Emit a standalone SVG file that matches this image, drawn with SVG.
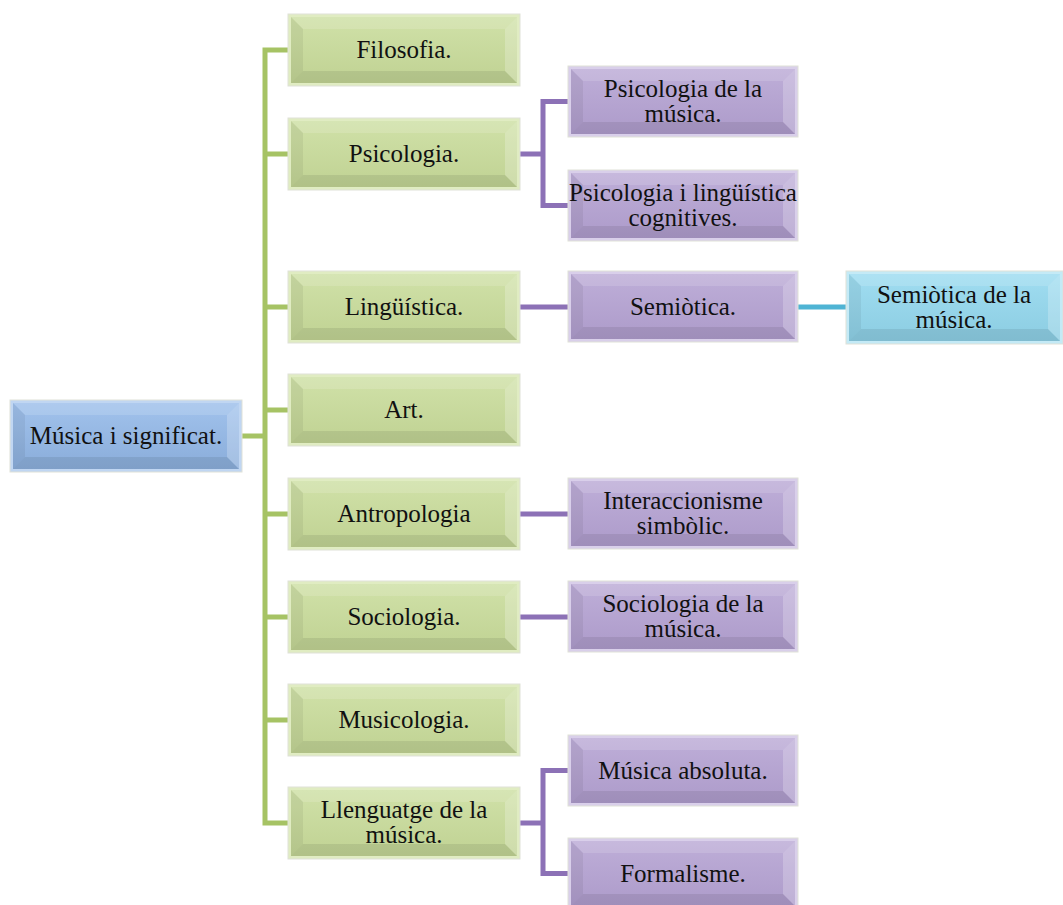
<svg xmlns="http://www.w3.org/2000/svg" width="1063" height="905" viewBox="0 0 1063 905">
  <defs>
    <linearGradient id="gGreen" x1="0" y1="0" x2="0" y2="1">
      <stop offset="0" stop-color="#d0e1a8"/>
      <stop offset="1" stop-color="#c0d293"/>
    </linearGradient>
    <linearGradient id="gPurple" x1="0" y1="0" x2="0" y2="1">
      <stop offset="0" stop-color="#beaed8"/>
      <stop offset="1" stop-color="#ad9bca"/>
    </linearGradient>
    <linearGradient id="gBlue" x1="0" y1="0" x2="0" y2="1">
      <stop offset="0" stop-color="#a1c2ec"/>
      <stop offset="1" stop-color="#8aadda"/>
    </linearGradient>
    <linearGradient id="gCyan" x1="0" y1="0" x2="0" y2="1">
      <stop offset="0" stop-color="#a0ddf1"/>
      <stop offset="1" stop-color="#8ccde2"/>
    </linearGradient>
  </defs>
  <style>
    .edge { fill: none; stroke-width: 5; stroke-linecap: square; stroke-linejoin: miter; }
    .eg { stroke: #a6c364; }
    .ep { stroke: #8c71b6; }
    .ec { stroke: #4fb4d4; }
    .frame { stroke: #dfe1d8; stroke-width: 1; }
    .green .frame { fill: #e0ecc2; }
    .green .face { fill: url(#gGreen); }
    .purple .frame { fill: #d9cfea; }
    .purple .face { fill: url(#gPurple); }
    .blue .frame { fill: #c0d6f2; }
    .blue .face { fill: url(#gBlue); }
    .cyan .frame { fill: #c4eaf6; }
    .cyan .face { fill: url(#gCyan); }
    .bt { fill: #ffffff; opacity: 0.14; }
    .bl { fill: #000000; opacity: 0.06; }
    .bb { fill: #000000; opacity: 0.08; }
    .br { fill: #ffffff; opacity: 0.22; }
    text { font-family: "Liberation Serif", "Times New Roman", serif; font-size: 25px; fill: #111111; text-anchor: middle; }
  </style>

  <!-- connectors -->
  <g id="connectors">
    <path class="edge eg" d="M242,436 H265 M265,50 V823 M265,50 H288 M265,154 H288 M265,307 H288 M265,410 H288 M265,514 H288 M265,617 H288 M265,720 H288 M265,823 H288"/>
    <path class="edge ep" d="M520,154 H543 M543,101.5 V205.5 M543,101.5 H568 M543,205.5 H568"/>
    <path class="edge ep" d="M520,307 H568"/>
    <path class="edge ep" d="M520,514 H568"/>
    <path class="edge ep" d="M520,617 H568"/>
    <path class="edge ep" d="M520,823 H543 M543,770.5 V873.5 M543,770.5 H568 M543,873.5 H568"/>
    <path class="edge ec" d="M798,307 H846"/>
  </g>

  <!-- root -->
  <g id="n-root" class="blue" transform="translate(10,400)">
    <rect class="frame" x="0" y="0" width="232" height="72"/>
    <rect class="face" x="3" y="3" width="226" height="66"/>
    <polygon class="bt" points="3,3 229,3 217,15 15,15"/>
    <polygon class="bl" points="3,3 15,15 15,57 3,69"/>
    <polygon class="bb" points="3,69 15,57 217,57 229,69"/>
    <polygon class="br" points="229,3 229,69 217,57 217,15"/>
    <text x="116" y="44">Música i significat.</text>
  </g>

  <!-- first level -->
  <g id="n-filosofia" class="green" transform="translate(288,14)">
    <rect class="frame" x="0" y="0" width="232" height="72"/>
    <rect class="face" x="3" y="3" width="226" height="66"/>
    <polygon class="bt" points="3,3 229,3 217,15 15,15"/>
    <polygon class="bl" points="3,3 15,15 15,57 3,69"/>
    <polygon class="bb" points="3,69 15,57 217,57 229,69"/>
    <polygon class="br" points="229,3 229,69 217,57 217,15"/>
    <text x="116" y="44">Filosofia.</text>
  </g>
  <g id="n-psicologia" class="green" transform="translate(288,118)">
    <rect class="frame" x="0" y="0" width="232" height="72"/>
    <rect class="face" x="3" y="3" width="226" height="66"/>
    <polygon class="bt" points="3,3 229,3 217,15 15,15"/>
    <polygon class="bl" points="3,3 15,15 15,57 3,69"/>
    <polygon class="bb" points="3,69 15,57 217,57 229,69"/>
    <polygon class="br" points="229,3 229,69 217,57 217,15"/>
    <text x="116" y="44">Psicologia.</text>
  </g>
  <g id="n-linguistica" class="green" transform="translate(288,271)">
    <rect class="frame" x="0" y="0" width="232" height="72"/>
    <rect class="face" x="3" y="3" width="226" height="66"/>
    <polygon class="bt" points="3,3 229,3 217,15 15,15"/>
    <polygon class="bl" points="3,3 15,15 15,57 3,69"/>
    <polygon class="bb" points="3,69 15,57 217,57 229,69"/>
    <polygon class="br" points="229,3 229,69 217,57 217,15"/>
    <text x="116" y="44">Lingüística.</text>
  </g>
  <g id="n-art" class="green" transform="translate(288,374)">
    <rect class="frame" x="0" y="0" width="232" height="72"/>
    <rect class="face" x="3" y="3" width="226" height="66"/>
    <polygon class="bt" points="3,3 229,3 217,15 15,15"/>
    <polygon class="bl" points="3,3 15,15 15,57 3,69"/>
    <polygon class="bb" points="3,69 15,57 217,57 229,69"/>
    <polygon class="br" points="229,3 229,69 217,57 217,15"/>
    <text x="116" y="44">Art.</text>
  </g>
  <g id="n-antropologia" class="green" transform="translate(288,478)">
    <rect class="frame" x="0" y="0" width="232" height="72"/>
    <rect class="face" x="3" y="3" width="226" height="66"/>
    <polygon class="bt" points="3,3 229,3 217,15 15,15"/>
    <polygon class="bl" points="3,3 15,15 15,57 3,69"/>
    <polygon class="bb" points="3,69 15,57 217,57 229,69"/>
    <polygon class="br" points="229,3 229,69 217,57 217,15"/>
    <text x="116" y="44">Antropologia</text>
  </g>
  <g id="n-sociologia" class="green" transform="translate(288,581)">
    <rect class="frame" x="0" y="0" width="232" height="72"/>
    <rect class="face" x="3" y="3" width="226" height="66"/>
    <polygon class="bt" points="3,3 229,3 217,15 15,15"/>
    <polygon class="bl" points="3,3 15,15 15,57 3,69"/>
    <polygon class="bb" points="3,69 15,57 217,57 229,69"/>
    <polygon class="br" points="229,3 229,69 217,57 217,15"/>
    <text x="116" y="44">Sociologia.</text>
  </g>
  <g id="n-musicologia" class="green" transform="translate(288,684)">
    <rect class="frame" x="0" y="0" width="232" height="72"/>
    <rect class="face" x="3" y="3" width="226" height="66"/>
    <polygon class="bt" points="3,3 229,3 217,15 15,15"/>
    <polygon class="bl" points="3,3 15,15 15,57 3,69"/>
    <polygon class="bb" points="3,69 15,57 217,57 229,69"/>
    <polygon class="br" points="229,3 229,69 217,57 217,15"/>
    <text x="116" y="44">Musicologia.</text>
  </g>
  <g id="n-llenguatge" class="green" transform="translate(288,787)">
    <rect class="frame" x="0" y="0" width="232" height="72"/>
    <rect class="face" x="3" y="3" width="226" height="66"/>
    <polygon class="bt" points="3,3 229,3 217,15 15,15"/>
    <polygon class="bl" points="3,3 15,15 15,57 3,69"/>
    <polygon class="bb" points="3,69 15,57 217,57 229,69"/>
    <polygon class="br" points="229,3 229,69 217,57 217,15"/>
    <text x="116" y="31">Llenguatge de la</text>
    <text x="116" y="56">música.</text>
  </g>

  <!-- second level -->
  <g id="n-psico-musica" class="purple" transform="translate(568,66)">
    <rect class="frame" x="0" y="0" width="230" height="71"/>
    <rect class="face" x="3" y="3" width="224" height="65"/>
    <polygon class="bt" points="3,3 227,3 215,15 15,15"/>
    <polygon class="bl" points="3,3 15,15 15,56 3,68"/>
    <polygon class="bb" points="3,68 15,56 215,56 227,68"/>
    <polygon class="br" points="227,3 227,68 215,56 215,15"/>
    <text x="115" y="31">Psicologia de la</text>
    <text x="115" y="56">música.</text>
  </g>
  <g id="n-psico-cognitives" class="purple" transform="translate(568,170)">
    <rect class="frame" x="0" y="0" width="230" height="71"/>
    <rect class="face" x="3" y="3" width="224" height="65"/>
    <polygon class="bt" points="3,3 227,3 215,15 15,15"/>
    <polygon class="bl" points="3,3 15,15 15,56 3,68"/>
    <polygon class="bb" points="3,68 15,56 215,56 227,68"/>
    <polygon class="br" points="227,3 227,68 215,56 215,15"/>
    <text x="115" y="31">Psicologia i lingüística</text>
    <text x="115" y="56">cognitives.</text>
  </g>
  <g id="n-semiotica" class="purple" transform="translate(568,271)">
    <rect class="frame" x="0" y="0" width="230" height="71"/>
    <rect class="face" x="3" y="3" width="224" height="65"/>
    <polygon class="bt" points="3,3 227,3 215,15 15,15"/>
    <polygon class="bl" points="3,3 15,15 15,56 3,68"/>
    <polygon class="bb" points="3,68 15,56 215,56 227,68"/>
    <polygon class="br" points="227,3 227,68 215,56 215,15"/>
    <text x="115" y="44">Semiòtica.</text>
  </g>
  <g id="n-interaccionisme" class="purple" transform="translate(568,478)">
    <rect class="frame" x="0" y="0" width="230" height="71"/>
    <rect class="face" x="3" y="3" width="224" height="65"/>
    <polygon class="bt" points="3,3 227,3 215,15 15,15"/>
    <polygon class="bl" points="3,3 15,15 15,56 3,68"/>
    <polygon class="bb" points="3,68 15,56 215,56 227,68"/>
    <polygon class="br" points="227,3 227,68 215,56 215,15"/>
    <text x="115" y="31">Interaccionisme</text>
    <text x="115" y="56">simbòlic.</text>
  </g>
  <g id="n-socio-musica" class="purple" transform="translate(568,581)">
    <rect class="frame" x="0" y="0" width="230" height="71"/>
    <rect class="face" x="3" y="3" width="224" height="65"/>
    <polygon class="bt" points="3,3 227,3 215,15 15,15"/>
    <polygon class="bl" points="3,3 15,15 15,56 3,68"/>
    <polygon class="bb" points="3,68 15,56 215,56 227,68"/>
    <polygon class="br" points="227,3 227,68 215,56 215,15"/>
    <text x="115" y="31">Sociologia de la</text>
    <text x="115" y="56">música.</text>
  </g>
  <g id="n-absoluta" class="purple" transform="translate(568,735)">
    <rect class="frame" x="0" y="0" width="230" height="71"/>
    <rect class="face" x="3" y="3" width="224" height="65"/>
    <polygon class="bt" points="3,3 227,3 215,15 15,15"/>
    <polygon class="bl" points="3,3 15,15 15,56 3,68"/>
    <polygon class="bb" points="3,68 15,56 215,56 227,68"/>
    <polygon class="br" points="227,3 227,68 215,56 215,15"/>
    <text x="115" y="44">Música absoluta.</text>
  </g>
  <g id="n-formalisme" class="purple" transform="translate(568,838)">
    <rect class="frame" x="0" y="0" width="230" height="71"/>
    <rect class="face" x="3" y="3" width="224" height="65"/>
    <polygon class="bt" points="3,3 227,3 215,15 15,15"/>
    <polygon class="bl" points="3,3 15,15 15,56 3,68"/>
    <polygon class="bb" points="3,68 15,56 215,56 227,68"/>
    <polygon class="br" points="227,3 227,68 215,56 215,15"/>
    <text x="115" y="44">Formalisme.</text>
  </g>

  <!-- third level -->
  <g id="n-semiotica-musica" class="cyan" transform="translate(846,271)">
    <rect class="frame" x="0" y="0" width="217" height="73"/>
    <rect class="face" x="3" y="3" width="211" height="67"/>
    <polygon class="bt" points="3,3 214,3 202,15 15,15"/>
    <polygon class="bl" points="3,3 15,15 15,58 3,70"/>
    <polygon class="bb" points="3,70 15,58 202,58 214,70"/>
    <polygon class="br" points="214,3 214,70 202,58 202,15"/>
    <text x="108" y="32">Semiòtica de la</text>
    <text x="108" y="57">música.</text>
  </g>
</svg>
